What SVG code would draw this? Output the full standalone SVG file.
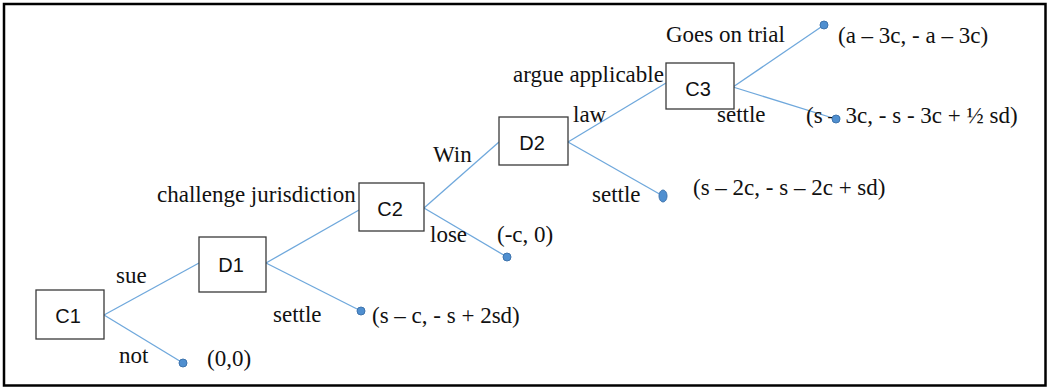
<svg xmlns="http://www.w3.org/2000/svg" width="1048" height="388" viewBox="0 0 1048 388">
  <style>
    .box { fill: #ffffff; stroke: #3a3a3a; stroke-width: 1.3; }
    .node-label { font-family: "Liberation Sans", Arial, sans-serif; font-size: 20px; fill: #111; text-anchor: middle; }
    .lbl { font-family: 'Liberation Serif', 'DejaVu Serif', serif; font-size: 23px; fill: #111; }
    .edge { stroke: #6fa8dc; stroke-width: 1.3; fill: none; }
    .dot { fill: #4f8fd0; stroke: #3f74ad; stroke-width: 1; }
  </style>
  <rect x="0" y="0" width="1048" height="388" fill="#ffffff"/>
  <rect x="4" y="4" width="1041.5" height="381.5" fill="none" stroke="#000" stroke-width="2.5"/>

  <g id="connectors">
    <line class="edge" x1="104" y1="315" x2="199" y2="263"/>
    <line class="edge" x1="104" y1="315" x2="183" y2="363"/>
    <line class="edge" x1="266" y1="263" x2="359" y2="210"/>
    <line class="edge" x1="266" y1="263" x2="361" y2="311"/>
    <line class="edge" x1="424" y1="208" x2="499" y2="142"/>
    <line class="edge" x1="424" y1="208" x2="507" y2="257"/>
    <line class="edge" x1="568" y1="142" x2="666" y2="83"/>
    <line class="edge" x1="568" y1="142" x2="663" y2="196"/>
    <line class="edge" x1="733" y1="87" x2="824" y2="25"/>
    <line class="edge" x1="733" y1="87" x2="836" y2="119"/>
  </g>

  <g id="C1">
    <rect class="box" x="36" y="290" width="68" height="49"/>
    <text class="node-label" x="68" y="323">C1</text>
  </g>
  <g id="D1">
    <rect class="box" x="199" y="237" width="67" height="55"/>
    <text class="node-label" x="231" y="272">D1</text>
  </g>
  <g id="C2">
    <rect class="box" x="359" y="183" width="65" height="48"/>
    <text class="node-label" x="390" y="216">C2</text>
  </g>
  <g id="D2">
    <rect class="box" x="499" y="117" width="69" height="48"/>
    <text class="node-label" x="532" y="150">D2</text>
  </g>
  <g id="C3">
    <rect class="box" x="666" y="63" width="68" height="46"/>
    <text class="node-label" x="698" y="96">C3</text>
  </g>

  <g id="edge-labels" font-family="Liberation Serif, serif">
    <text class="lbl" x="116" y="283">sue</text>
    <text class="lbl" x="119" y="363">not</text>
    <text class="lbl" x="273" y="322">settle</text>
    <text class="lbl" x="157" y="202">challenge jurisdiction</text>
    <text class="lbl" x="430" y="242">lose</text>
    <text class="lbl" x="433" y="162">Win</text>
    <text class="lbl" x="592" y="202">settle</text>
    <text class="lbl" x="573" y="122">law</text>
    <text class="lbl" x="513" y="82">argue applicable</text>
    <text class="lbl" x="666" y="42">Goes on trial</text>
    <text class="lbl" x="717" y="122">settle</text>
  </g>

  <g id="outcomes" font-family="Liberation Serif, serif">
    <text class="lbl" x="207" y="366">(0,0)</text>
    <text class="lbl" x="372" y="323">(s – c, - s + 2sd)</text>
    <text class="lbl" x="497" y="242">(-c, 0)</text>
    <text class="lbl" x="693" y="195">(s – 2c, - s – 2c + sd)</text>
    <text class="lbl" x="838" y="43">(a – 3c, - a – 3c)</text>
    <text class="lbl" x="806" y="123">(s – 3c, - s - 3c + ½ sd)</text>
  </g>

  <g id="terminals">
    <circle class="dot" cx="183" cy="363" r="4"/>
    <circle class="dot" cx="361" cy="311" r="4"/>
    <circle class="dot" cx="507" cy="257" r="4"/>
    <ellipse class="dot" cx="663" cy="196" rx="4" ry="6"/>
    <circle class="dot" cx="824" cy="25" r="4"/>
    <circle class="dot" cx="836" cy="119" r="4"/>
  </g>
</svg>
